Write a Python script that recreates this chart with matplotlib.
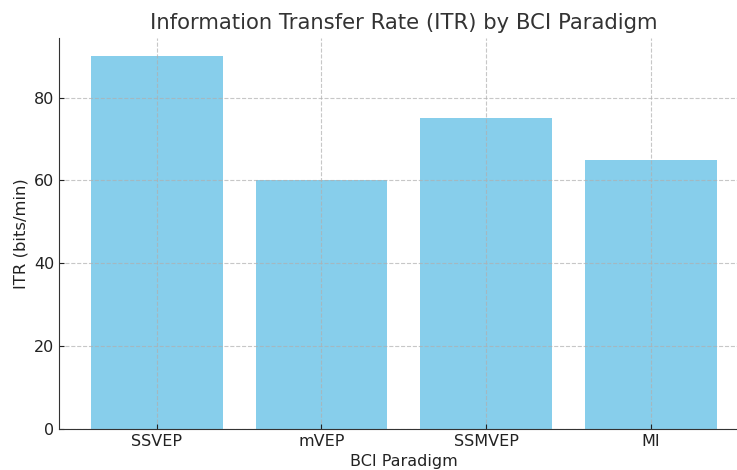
import matplotlib
matplotlib.use("Agg")
import matplotlib.pyplot as plt

paradigms = ["SSVEP", "mVEP", "SSMVEP", "MI"]
itr_values = [90, 60, 75, 65]

fig = plt.figure(figsize=(7.37, 4.70), dpi=100)
ax = fig.add_axes([0.0807, 0.0872, 0.9346, 0.833])

ax.bar(paradigms, itr_values, color="skyblue")
ax.set_title("Information Transfer Rate (ITR) by BCI Paradigm", fontsize=15.2, color="#333333")
ax.set_xlabel("BCI Paradigm", fontsize=11.5, color="#222222")
ax.set_ylabel("ITR (bits/min)", fontsize=11.8, color="#222222")
ax.tick_params(direction="in", labelsize=11.5, colors="#222222")
ax.grid(True, linestyle="--", alpha=0.7)

for side in ["top", "right"]:
    ax.spines[side].set_visible(False)
for side in ["left", "bottom"]:
    ax.spines[side].set_color("#333333")

fig.savefig("out.png", dpi=100)
